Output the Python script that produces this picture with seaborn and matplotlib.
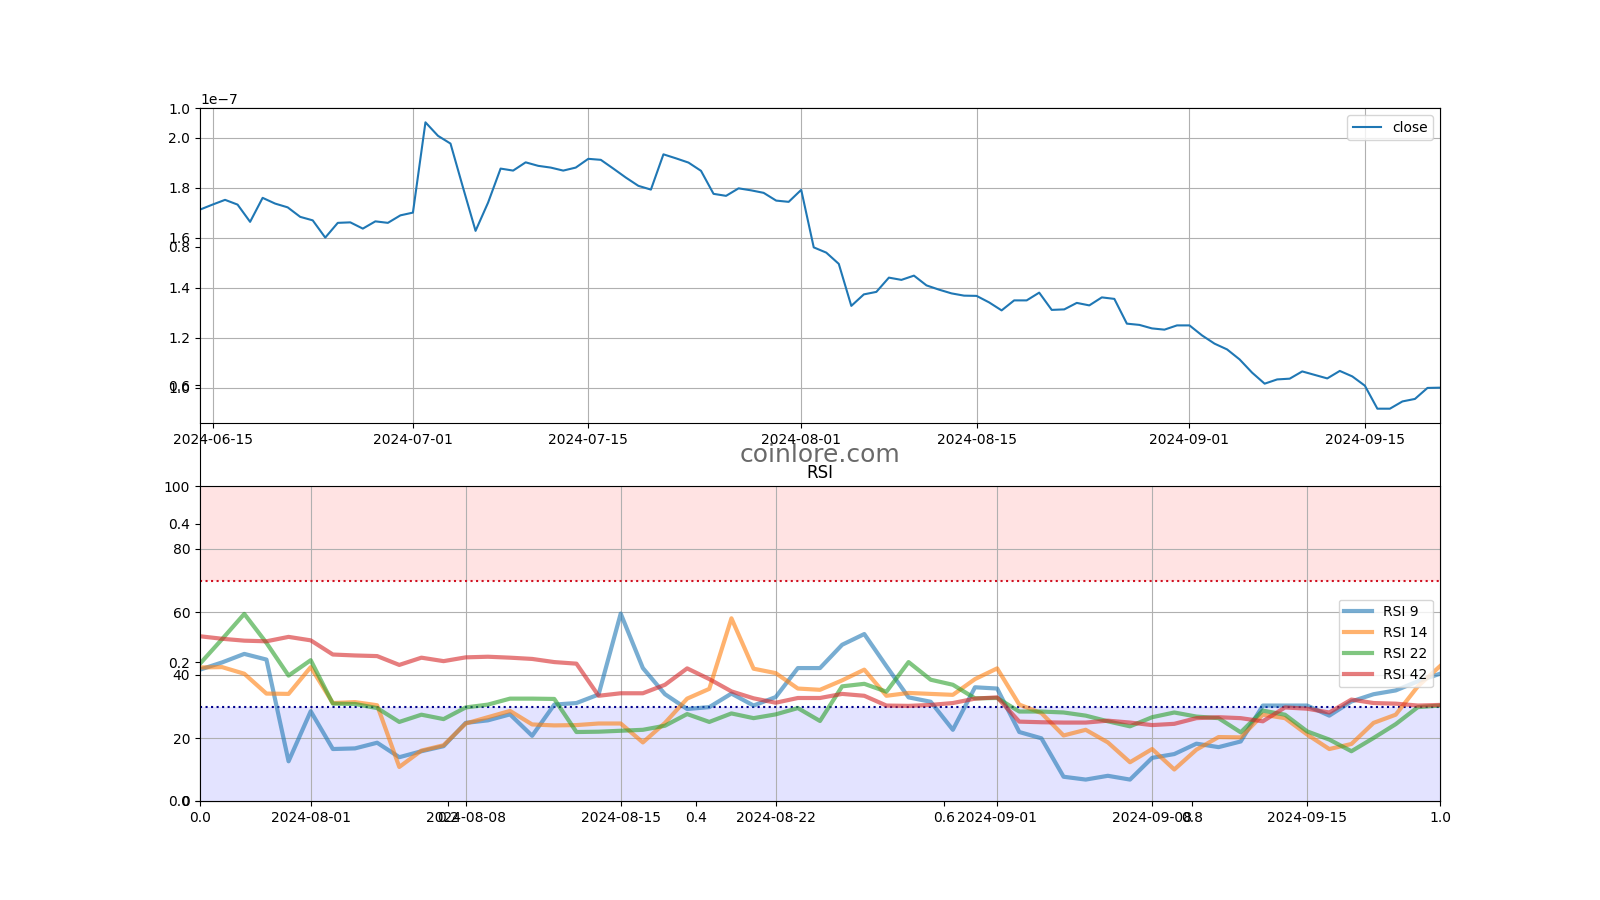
"""Close price + RSI panel, coinlore style."""

import matplotlib
matplotlib.use("Agg")
import matplotlib.pyplot as plt
import numpy as np
import pandas as pd
import seaborn as sns

# close price, in units of 1e-7, daily from 2024-06-14
close = [
    1.712, 1.732, 1.751, 1.732, 1.663, 1.759, 1.736, 1.721, 1.683, 1.669,
    1.600, 1.659, 1.661, 1.636, 1.665, 1.659, 1.689, 1.700, 2.061, 2.007,
    1.976, 1.800, 1.627, 1.740, 1.876, 1.868, 1.901, 1.887, 1.880, 1.868,
    1.880, 1.915, 1.911, 1.876, 1.840, 1.807, 1.792, 1.933, 1.917, 1.900,
    1.867, 1.775, 1.767, 1.797, 1.789, 1.779, 1.748, 1.743, 1.791, 1.561,
    1.540, 1.495, 1.327, 1.373, 1.383, 1.440, 1.431, 1.448, 1.409, 1.392,
    1.377, 1.368, 1.367, 1.341, 1.309, 1.349, 1.349, 1.380, 1.311, 1.313,
    1.339, 1.329, 1.361, 1.355, 1.256, 1.251, 1.237, 1.232, 1.249, 1.249,
    1.209, 1.176, 1.153, 1.113, 1.060, 1.016, 1.033, 1.036, 1.065, 1.051,
    1.037, 1.067, 1.045, 1.008, 0.916, 0.916, 0.945, 0.955, 0.999, 1.000,
]

# RSI values, daily from 2024-07-27
rsi9 = [
    41.7, 44.0, 46.7, 44.9, 12.6, 28.5, 16.5, 16.7, 18.5, 13.9, 15.8, 17.4, 24.8, 25.6, 27.5,
    20.7, 30.6, 31.1, 33.8, 59.5, 42.2, 33.9, 29.2, 29.8, 34.1, 30.3, 33.0, 42.2, 42.2,
    49.6, 53.0, 42.8, 32.9, 31.5, 22.6, 36.1, 35.7, 21.9, 19.9, 7.7, 6.8, 8.0, 6.8,
    13.7, 14.9, 18.2, 17.1, 18.9, 30.3, 30.3, 30.3, 27.1, 31.6, 33.9, 35.1, 38.0, 40.4,
]
rsi14 = [
    42.4, 42.5, 40.4, 34.1, 34.0, 42.5, 31.1, 31.4, 30.4, 10.8, 16.0, 17.7, 24.6, 26.6, 28.6,
    24.3, 24.0, 24.1, 24.6, 24.6, 18.6, 24.8, 32.5, 35.6, 58.0, 42.0, 40.6, 35.7, 35.3,
    38.3, 41.7, 33.4, 34.3, 34.0, 33.7, 38.7, 42.1, 30.6, 27.9, 20.8, 22.6, 18.6, 12.3,
    16.5, 10.0, 16.3, 20.3, 20.2, 27.4, 26.3, 21.1, 16.5, 18.1, 24.8, 27.4, 36.4, 42.8,
]
rsi22 = [
    43.6, 51.4, 59.4, 50.2, 39.8, 44.7, 30.9, 30.8, 29.5, 25.1, 27.4, 26.0, 29.7, 30.6, 32.5,
    32.5, 32.4, 21.9, 22.0, 22.3, 22.6, 23.9, 27.6, 25.1, 27.8, 26.3, 27.5, 29.5, 25.4,
    36.4, 37.2, 34.7, 44.1, 38.5, 36.9, 32.6, 32.7, 28.4, 28.4, 28.1, 27.1, 25.3, 23.7,
    26.6, 28.1, 26.8, 26.3, 21.8, 28.7, 27.4, 22.1, 19.5, 15.8, 20.0, 24.4, 29.8, 30.3,
]
rsi42 = [
    52.3, 51.5, 50.9, 50.7, 52.1, 51.0, 46.5, 46.2, 46.0, 43.2, 45.5, 44.4, 45.6, 45.8, 45.5,
    45.1, 44.1, 43.6, 33.4, 34.2, 34.2, 36.9, 42.1, 38.7, 34.8, 32.6, 31.2, 32.7, 32.7,
    34.0, 33.4, 30.3, 30.2, 30.5, 31.1, 32.5, 32.9, 25.2, 25.0, 24.9, 24.9, 25.5, 24.9,
    24.1, 24.5, 26.3, 26.6, 26.3, 25.3, 29.7, 29.3, 28.1, 32.2, 31.1, 30.9, 30.3, 30.5,
]
rsi_series = {"RSI 9": rsi9, "RSI 14": rsi14, "RSI 22": rsi22, "RSI 42": rsi42}
rsi_colors = ["tab:blue", "tab:orange", "tab:green", "tab:red"]

close_dates = pd.date_range("2024-06-14", periods=len(close), freq="D")
rsi_dates = pd.date_range("2024-07-27", periods=len(rsi9), freq="D")

fig = plt.figure(figsize=(16, 9), dpi=100)

# background axes (watermark holder)
ax0 = fig.add_subplot(111)
ax0.text(0.5, 0.5, "coinlore.com", transform=ax0.transAxes, ha="center", va="center",
         fontsize=18, color="dimgray")

# price
ax1 = fig.add_subplot(211)
sns.lineplot(x=close_dates, y=np.array(close) * 1e-7, ax=ax1, label="close", color="tab:blue")
ax1.set_xlim(close_dates[0], close_dates[-1])
ax1.set_xlabel(""); ax1.set_ylabel("")
ax1.grid(True)
ax1.legend(loc="upper right")

# RSI
ax2 = fig.add_subplot(212)
ax2.axhspan(70, 100, color="red", alpha=0.11, lw=0)
ax2.axhspan(0, 30, color="blue", alpha=0.11, lw=0)
ax2.axhline(70, color="#d01020", ls=":", lw=1.5)
ax2.axhline(30, color="darkblue", ls=":", lw=1.5)
for (name, vals), c in zip(rsi_series.items(), rsi_colors):
    sns.lineplot(x=rsi_dates, y=vals, ax=ax2, label=name, color=c, lw=3, alpha=0.6)
ax2.set_xlim(rsi_dates[0], rsi_dates[-1])
ax2.set_ylim(0, 100)
ax2.set_xlabel(""); ax2.set_ylabel("")
ax2.set_title("RSI")
ax2.grid(True)
ax2.legend(loc="center right")

fig.savefig("out.png", dpi=100)
